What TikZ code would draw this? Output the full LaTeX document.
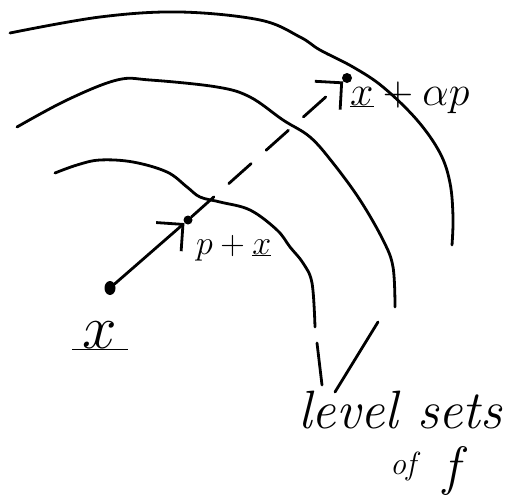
\RequirePackage{fix-cm}
\documentclass[tikz,border=0pt]{standalone}
\usetikzlibrary{arrows.meta, positioning, shapes.geometric}

\tikzset{
  curve/.style={line width=2.8pt, line cap=round, line join=round},
  dot/.style={circle, fill, inner sep=0pt, minimum size=11pt},
  hand/.style={-{Straight Barb[length=19pt, width=38pt, line width=2.8pt]}, line width=2.8pt, line cap=round},
  lab/.style={inner sep=0pt},
}

\begin{document}
\begin{tikzpicture}[x=1pt, y=-1pt]
    \useasboundingbox (0,0) rectangle (521,503);

    % ---------------- level sets ----------------
    \draw[curve] plot[smooth, tension=0.6] coordinates {(10,33) (100,17) (180,12) (260,20) (300,37) (320,50)
        (353,67) (383,87) (417,120) (440,153) (450,183) (453,217) (452,245)};
    \draw[curve] plot[smooth, tension=0.6] coordinates {(17,127) (67,100) (117,80) (150,80) (217,87) (250,97)
        (283,120) (310,137) (333,163) (360,200) (383,240) (393,267) (395,307)};
    \draw[curve] plot[smooth, tension=0.6] coordinates {(55,173) (77,165) (100,160) (133,162) (167,172) (187,187)
        (200,197) (220,202) (250,210) (277,230) (290,247) (303,263) (312,283) (315,327)};

    % ---------------- points ----------------
    \node[dot, ellipse, minimum width=11pt, minimum height=14pt] (xpt) at (110,288) {};
    \node[dot, minimum size=9pt] (pxpt) at (188,220) {};
    \node[dot, minimum size=10pt] (xapt) at (347,78) {};

    \draw[hand] (xpt) -- (pxpt);
    \draw[hand, dash pattern=on 30pt off 20pt] (pxpt) -- (xapt);

    % ---------------- labels ----------------
    \node[lab, anchor=base] (xlab) at (100,348) {\fontsize{62}{66}\selectfont$\underline{\,x\,}$};
    \node[lab, anchor=base west] (pxlab) at (196,254) {\fontsize{34}{38}\selectfont$p+\underline{x}$};
    \node[lab, anchor=base west] (xalab) at (350,105) {\fontsize{42}{46}\selectfont$\underline{x}+\alpha p$};

    \node[lab, anchor=base west] (lvl) at (298,428) {\fontsize{54}{60}\selectfont\itshape level sets};
    \node[lab, anchor=base] (off) at (425,484) {\fontsize{54}{60}\selectfont\itshape \raisebox{10pt}{\fontsize{32}{34}\selectfont of}\, f};

    % pointers to the curves
    \coordinate (tip1) at (317,343);
    \coordinate (tip2) at (378,322);
    \coordinate (foot1) at (322,385);
    \coordinate (foot2) at (335,392);
    \draw[curve] (tip1) -- (foot1);
    \draw[curve] (tip2) -- (foot2);
\end{tikzpicture}
\end{document}
